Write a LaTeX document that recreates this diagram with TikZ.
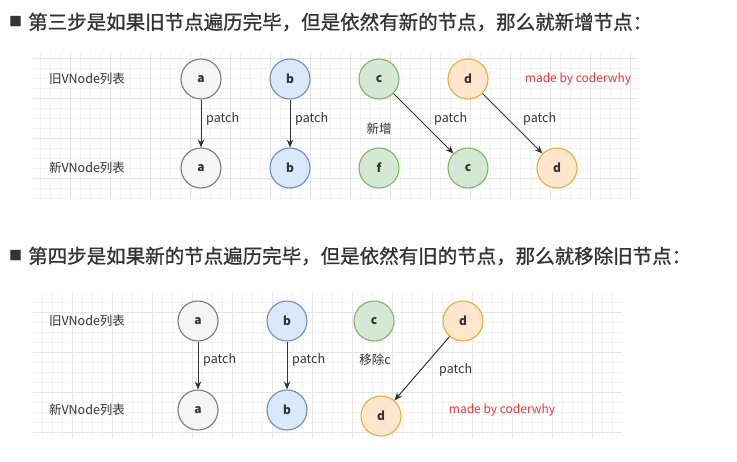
\documentclass[tikz,border=0pt]{standalone}
\usepackage{fontspec}
\setmainfont{Noto Sans CJK SC}
\newfontfamily\titlefont{Noto Sans CJK SC}[FakeBold=0.9]
\usetikzlibrary{arrows.meta}
\definecolor{grayfill}{HTML}{F5F5F5}
\definecolor{graystroke}{HTML}{7A7A7A}
\definecolor{bluefill}{HTML}{DAE8FC}
\definecolor{bluestroke}{HTML}{6C8EBF}
\definecolor{greenfill}{HTML}{D5E8D4}
\definecolor{greenstroke}{HTML}{82B366}
\definecolor{orangefill}{HTML}{FFE6CC}
\definecolor{orangestroke}{HTML}{E0B040}
\definecolor{txt}{HTML}{333333}
\definecolor{gridmaj}{HTML}{E6E6E6}
\definecolor{gridmin}{HTML}{F3F3F3}
\definecolor{madered}{HTML}{E8393C}
\begin{document}
\begin{tikzpicture}[x=1pt,y=-1pt,
  vnode/.style={circle,minimum size=40pt,inner sep=0pt,line width=1.1pt,font=\fontsize{12}{12}\selectfont\bfseries,text=txt},
  gnode/.style={vnode,draw=graystroke,fill=grayfill},
  bnode/.style={vnode,draw=bluestroke,fill=bluefill},
  cnode/.style={vnode,draw=greenstroke,fill=greenfill},
  dnode/.style={vnode,draw=orangestroke,fill=orangefill},
  lbl/.style={font=\fontsize{12.5}{13}\selectfont,text=txt,inner sep=0pt},
  plbl/.style={lbl,anchor=west},
  made/.style={font=\fontsize{12}{12}\selectfont,text=madered,inner sep=0pt},
  title/.style={font=\titlefont\fontsize{19.5}{20}\selectfont,text=txt,inner sep=0pt,anchor=west},
  bullet/.style={font=\fontsize{13}{13}\selectfont,text=txt,inner sep=0pt,anchor=west},
  conn/.style={draw=txt,line width=1pt,-{Stealth[length=8pt,width=6.5pt]}}
]
\useasboundingbox (0,0) rectangle (737,461);
\fill[white] (0,0) rectangle (737,461);
% grids
\begin{scope}
\clip (33,52) rectangle (638,198);
\foreach \x in {30,40,...,640} \draw[gridmin,line width=0.5pt] (\x,52) -- (\x,198);
\foreach \y in {48,58,...,198} \draw[gridmin,line width=0.5pt] (33,\y) -- (638,\y);
\foreach \x in {30,70,...,640} \draw[gridmaj,line width=0.7pt] (\x,52) -- (\x,198);
\foreach \y in {58,98,...,198} \draw[gridmaj,line width=0.7pt] (33,\y) -- (638,\y);
\end{scope}
\begin{scope}
\clip (33,293) rectangle (622,438);
\foreach \x in {32,42,...,622} \draw[gridmin,line width=0.5pt] (\x,293) -- (\x,438);
\foreach \y in {292,302,...,438} \draw[gridmin,line width=0.5pt] (33,\y) -- (622,\y);
\foreach \x in {72,112,...,622} \draw[gridmaj,line width=0.7pt] (\x,293) -- (\x,438);
\foreach \y in {312,352,...,438} \draw[gridmaj,line width=0.7pt] (33,\y) -- (622,\y);
\end{scope}
% titles
\node[bullet] (sq1) at (9,22) {■};
\node[title] (t1) at (28,22) {第三步是如果旧节点遍历完毕，但是依然有新的节点，那么就新增节点：};
\node[bullet] (sq2) at (9,256) {■};
\node[title] (t2) at (28,256) {第四步是如果新的节点遍历完毕，但是依然有旧的节点，那么就移除旧节点：};
% top panel
\node[lbl] (old1) at (87,79) {旧VNode列表};
\node[lbl] (new1) at (87,168) {新VNode列表};
\node[gnode] (a1) at (201,79) {a};
\node[bnode] (b1) at (290,79) {b};
\node[cnode] (c1) at (379,79) {c};
\node[dnode] (d1) at (468,79) {d};
\node[gnode] (a2) at (201,168) {a};
\node[bnode] (b2) at (290,168) {b};
\node[cnode] (f2) at (379,168) {f};
\node[cnode] (c2) at (468,168) {c};
\node[dnode] (d2) at (557,168) {d};
\node[made] (m1) at (578,79) {made by coderwhy};
\draw[conn] (a1) -- (a2);
\draw[conn] (b1) -- (b2);
\draw[conn] (c1) -- (c2);
\draw[conn] (d1) -- (d2);
\node[plbl] (p1) at (206,119) {patch};
\node[plbl] (p2) at (295,119) {patch};
\node[plbl] (p3) at (434,119) {patch};
\node[plbl] (p4) at (523,119) {patch};
\node[lbl] (add) at (379,129) {新增};
% bottom panel
\node[lbl] (old2) at (87,321) {旧VNode列表};
\node[lbl] (new2) at (87,410) {新VNode列表};
\node[gnode] (a3) at (198,321) {a};
\node[bnode] (b3) at (287,321) {b};
\node[cnode] (c3) at (374,321) {c};
\node[dnode] (d3) at (463,321) {d};
\node[gnode] (a4) at (198,410) {a};
\node[bnode] (b4) at (287,410) {b};
\node[dnode] (d4) at (381,416) {d};
\node[made] (m2) at (502,410) {made by coderwhy};
\draw[conn] (a3) -- (a4);
\draw[conn] (b3) -- (b4);
\draw[conn] (d3) -- (d4);
\node[plbl] (p5) at (203,360) {patch};
\node[plbl] (p6) at (292,360) {patch};
\node[plbl] (p7) at (439,370) {patch};
\node[lbl] (rm) at (375,360) {移除c};
\end{tikzpicture}
\end{document}
